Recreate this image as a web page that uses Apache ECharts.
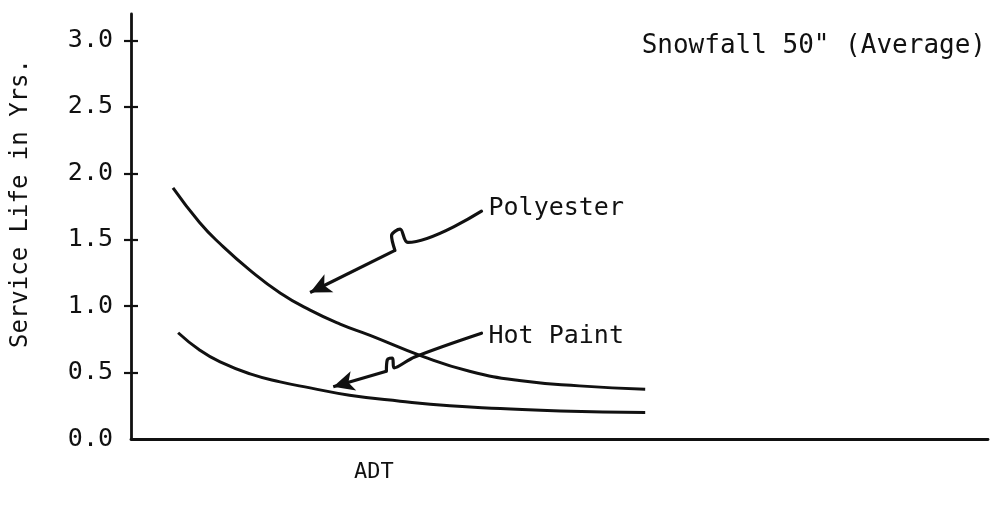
<!DOCTYPE html>
<html>
<head>
<meta charset="utf-8">
<script src="https://cdn.jsdelivr.net/npm/echarts@6/dist/echarts.min.js"></script>
<style>
html,body{margin:0;padding:0;background:#fff;}
#chart{width:1000px;height:508px;}
</style>
</head>
<body>
<div id="chart"></div>
<script>
// ---- data ----
const titleText = 'Snowfall 50" (Average)';
const xName = 'ADT';
const yName = 'Service Life in Yrs.';
const yTicks = [0, 0.5, 1.0, 1.5, 2.0, 2.5, 3.0];

// ADT in arbitrary units (no scale printed on the axis)
const polyesterX = [4.9, 8.0, 10.4, 13.9, 17.4, 20.9, 24.4, 27.9, 34.1, 39.5, 45.3, 52.3, 60.0];
const polyesterY = [1.89, 1.63, 1.47, 1.27, 1.10, 0.97, 0.865, 0.78, 0.62, 0.51, 0.44, 0.40, 0.375];

const hotPaintX = [5.5, 8.0, 10.4, 13.9, 17.4, 20.9, 25.5, 31.4, 37.2, 43.1, 50.1, 60.0];
const hotPaintY = [0.80, 0.67, 0.58, 0.49, 0.43, 0.385, 0.33, 0.285, 0.25, 0.23, 0.21, 0.20];

const seriesNames = ['Polyester', 'Hot Paint'];

// annotation leader arrows (data units): label end -> squiggle -> tip
const polyArrowX = [40.9, 32.3, 31.4, 30.4, 30.8, 20.9];
const polyArrowY = [1.715, 1.480, 1.580, 1.530, 1.420, 1.103];
const hotArrowX = [40.9, 33.1, 30.7, 30.5, 29.9, 29.8, 23.6];
const hotArrowY = [0.797, 0.618, 0.535, 0.610, 0.595, 0.510, 0.393];

// ---- build ----
const FONT = 'DejaVu Sans Mono';
const INK = '#111';
const zip = (xs, ys) => xs.map((x, i) => [x, ys[i]]);

function arrowSeries(xs, ys) {
  const pts = zip(xs, ys);
  return {
    type: 'line', data: pts.slice(0, pts.length - 1), showSymbol: false, symbol: 'none',
    silent: true, smooth: 0.35,
    lineStyle: {color: INK, width: 3.2, cap: 'round', join: 'round'}, z: 3,
    markLine: {
      silent: true, symbol: ['none', 'arrow'], symbolSize: [15, 21],
      label: {show: false},
      lineStyle: {color: INK, width: 3.2, type: 'solid'},
      data: [[{coord: pts[pts.length - 2]}, {coord: pts[pts.length - 1]}]]
    }
  };
}

function labelSeries(xs, ys, text, dy) {
  return {
    type: 'scatter', silent: true, symbolSize: 0,
    itemStyle: {color: INK, opacity: 1},
    data: [[xs[0], ys[0]]],
    label: {show: true, formatter: text, position: 'right', distance: 7, offset: [0, dy],
      color: INK, opacity: 1, fontFamily: FONT, fontSize: 25, textBorderWidth: 0}
  };
}

const chart = echarts.init(document.getElementById('chart'), null, {renderer: 'canvas'});
chart.setOption({
  animation: false,
  backgroundColor: '#fff',
  title: [
    {text: titleText, right: 9, top: 28,
     textStyle: {fontFamily: FONT, fontSize: 26, fontWeight: 'normal', color: INK}},
    {text: xName, left: 349, top: 456,
     textStyle: {fontFamily: FONT, fontSize: 22, fontWeight: 'normal', color: INK}}
  ],
  grid: {left: 131, right: 12, top: 14, bottom: 69, containLabel: false},
  xAxis: {
    type: 'value', min: 0, max: 100,
    axisLine: {show: true, lineStyle: {color: INK, width: 2.8}},
    axisTick: {show: false}, axisLabel: {show: false}, splitLine: {show: false}
  },
  yAxis: [
    {
      type: 'value', min: 0, max: 3.2, interval: 0.5,
      name: yName, nameLocation: 'middle', nameGap: 98, nameRotate: 90,
      nameTextStyle: {fontFamily: FONT, fontSize: 24, color: INK, padding: [0, 0, 0, 46]},
      axisLine: {show: true, lineStyle: {color: INK, width: 2.8}},
      axisTick: {show: true, length: 7, customValues: yTicks.slice(1), lineStyle: {color: INK, width: 2.2}},
      axisLabel: {show: true, margin: 18, customValues: yTicks,
        formatter: v => v.toFixed(1), fontFamily: FONT, fontSize: 25, color: INK},
      splitLine: {show: false}
    },
    {
      type: 'value', min: 0, max: 3.2, interval: 0.5, position: 'left', offset: 0,
      axisLine: {show: false},
      axisTick: {show: true, inside: true, length: 7, customValues: yTicks.slice(1), lineStyle: {color: INK, width: 2.2}},
      axisLabel: {show: false}, splitLine: {show: false}
    }
  ],
  series: [
    {name: seriesNames[0], type: 'line', data: zip(polyesterX, polyesterY), smooth: 0.5,
     showSymbol: false, symbol: 'none', lineStyle: {color: INK, width: 3}, z: 4},
    {name: seriesNames[1], type: 'line', data: zip(hotPaintX, hotPaintY), smooth: 0.5,
     showSymbol: false, symbol: 'none', lineStyle: {color: INK, width: 3}, z: 4},
    arrowSeries(polyArrowX, polyArrowY),
    arrowSeries(hotArrowX, hotArrowY),
    labelSeries(polyArrowX, polyArrowY, seriesNames[0], -3),
    labelSeries(hotArrowX, hotArrowY, seriesNames[1], 3)
  ]
});
</script>
</body>
</html>
